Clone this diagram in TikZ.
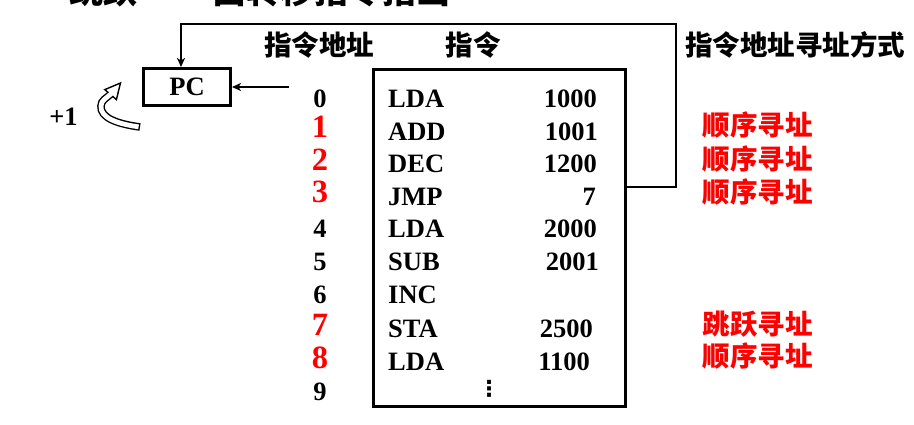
\documentclass[tikz,border=0pt]{standalone}
\usepackage{fontspec}
\setmainfont{Liberation Serif}
\newfontfamily\cjk{Noto Sans CJK SC}
\newfontfamily\symf{DejaVu Sans}
\usetikzlibrary{arrows.meta}
\tikzset{
  lat/.style={font=\fontsize{26.5}{30}\selectfont\bfseries, inner sep=0pt},
  addr/.style={lat, anchor=base},
  raddr/.style={font=\fontsize{32.5}{36}\selectfont\bfseries, text=red, inner sep=0pt, anchor=base},
  mnem/.style={lat, anchor=base west},
  opnd/.style={lat, anchor=base east},
  cjkhead/.style={font={\cjk\fontsize{27.5}{30}\selectfont\bfseries}, inner sep=0pt, anchor=base},
  redlab/.style={cjkhead, text=red},
  titletext/.style={font={\cjk\fontsize{34}{36}\selectfont\bfseries}, inner sep=0pt, anchor=base},
  conn/.style={line width=2pt},
  arr/.style={-{Stealth[length=9pt,width=8pt,inset=2.5pt]}},
  boxed/.style={draw, line width=3pt, inner sep=0pt},
}
\begin{document}
\begin{tikzpicture}[x=1pt,y=-1pt]
\useasboundingbox (0,0) rectangle (914,424);
% clipped title
\begin{scope}
  \clip (0,0) rectangle (914,424);
  \node[titletext] (t1) at (103,3.5) {跳跃};
  \node[titletext] (t2) at (331,3.5) {由转移指令指出};
\end{scope}
% headers
\node[cjkhead] (h1) at (319,55.5) {指令地址};
\node[cjkhead] (h2) at (473,55.5) {指令};
\node[cjkhead] (h3) at (795,55.5) {指令地址寻址方式};
% PC box
\node[boxed, minimum width=87pt, minimum height=37pt] (pc) at (187,87) {};
\node[lat] (pctext) at (pc.center) {PC};
\node[lat, anchor=base] (plus) at (63.5,125) {+1};
% program box
\node[boxed, minimum width=252pt, minimum height=337pt] (prog) at (499.5,238) {};
% addresses
\node[addr]  (a0) at (320,107) {0};
\node[raddr] (a1) at (320,137) {1};
\node[raddr] (a2) at (320,170) {2};
\node[raddr] (a3) at (320,202) {3};
\node[addr]  (a4) at (320,237) {4};
\node[addr]  (a5) at (320,270) {5};
\node[addr]  (a6) at (320,303) {6};
\node[raddr] (a7) at (320,335) {7};
\node[raddr] (a8) at (320,368) {8};
\node[addr]  (a9) at (320,400) {9};
% mnemonics
\node[mnem] (m0) at (388,107) {LDA};
\node[mnem] (m1) at (388,140) {ADD};
\node[mnem] (m2) at (388,172) {DEC};
\node[mnem] (m3) at (388,205) {JMP};
\node[mnem] (m4) at (388,237) {LDA};
\node[mnem] (m5) at (388,270) {SUB};
\node[mnem] (m6) at (388,303) {INC};
\node[mnem] (m7) at (388,337) {STA};
\node[mnem] (m8) at (388,370) {LDA};
% operands
\node[opnd] (o0) at (597,107) {1000};
\node[opnd] (o1) at (598,140) {1001};
\node[opnd] (o2) at (597,172) {1200};
\node[opnd] (o3) at (596,205) {7};
\node[opnd] (o4) at (597,237) {2000};
\node[opnd] (o5) at (599,270) {2001};
\node[opnd] (o7) at (593,337) {2500};
\node[opnd] (o8) at (590,370) {1100};
\node[font={\symf\fontsize{22}{24}\selectfont\bfseries}, inner sep=0pt] (dots) at (489,389) {⋮};
% red labels
\node[redlab] (r1) at (757.5,135.5) {顺序寻址};
\node[redlab] (r2) at (757.5,169.5) {顺序寻址};
\node[redlab] (r3) at (757.5,202.5) {顺序寻址};
\node[redlab] (r7) at (757.5,334.5) {跳跃寻址};
\node[redlab] (r8) at (757.5,366.5) {顺序寻址};
% connectors
\coordinate (jmpout) at (prog.east |- 0,187);
\coordinate (rtop) at (676,24);
\coordinate (pcin) at ([xshift=-6pt]pc.north);
\draw[conn, arr] (jmpout) -| (rtop) -| (pcin);
\coordinate (a0src) at (289,87);
\draw[conn, arr] (a0src) -- (pc.east |- a0src);
% hollow curved arrow (+1)
\coordinate (c0) at (140,127);
\coordinate (cm) at (101,106);
\coordinate (cb) at (111.8,93);
\coordinate (tip) at (120.5,83);
\coordinate (hc1) at (116.4,99.6);
\coordinate (hc2) at (104.8,89.6);
\draw[line width=7.6pt, line cap=butt] (c0) .. controls (118,124) and (100,118) .. (cm) .. controls (101,100) and (106.5,98.5) .. (cb);
\draw[line width=1.4pt, fill=white, line join=miter] (hc1) -- (tip) -- (hc2) -- cycle;
\draw[line width=4.8pt, white, line cap=butt, shorten <=1.4pt] (c0) .. controls (118,124) and (100,118) .. (cm) .. controls (101,100) and (106.5,98.5) .. (cb);
\end{tikzpicture}
\end{document}
